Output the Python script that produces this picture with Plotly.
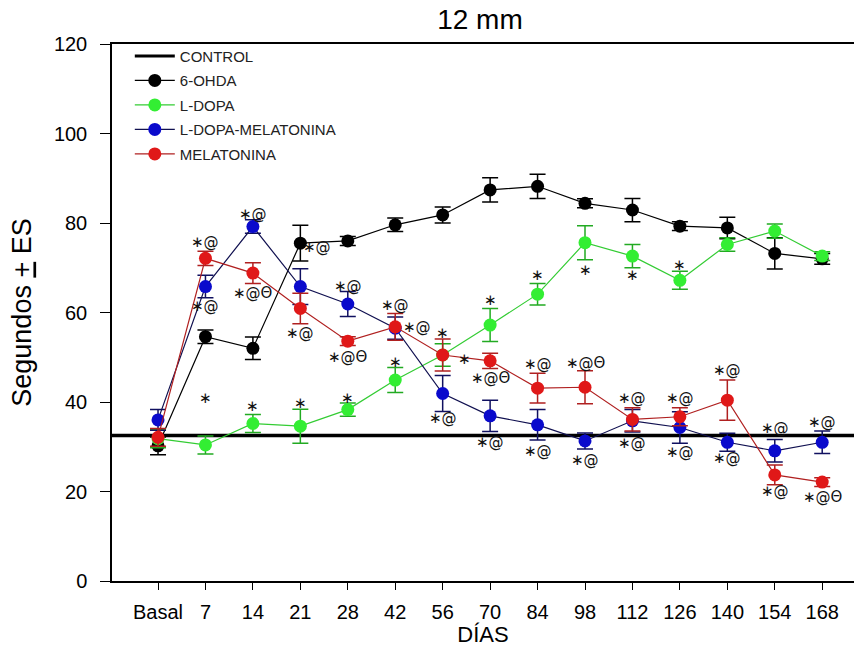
import plotly.graph_objects as go

days = ["Basal", "7", "14", "21", "28", "42", "56", "70", "84", "98", "112", "126", "140", "154", "168"]
xi = list(range(len(days)))

control_value = 32.5

ohda = [30.2, 54.6, 52.0, 75.5, 76.0, 79.6, 81.8, 87.4, 88.2, 84.4, 82.9, 79.3, 78.9, 73.2, 72.0]
ohda_err = [2.0, 1.5, 2.5, 4.0, 1.0, 1.5, 1.8, 2.7, 2.7, 1.0, 2.6, 1.0, 2.4, 3.5, 1.2]

ldopa = [31.8, 30.4, 35.2, 34.6, 38.3, 44.9, 50.5, 57.2, 64.1, 75.6, 72.6, 67.2, 75.2, 78.2, 72.6]
ldopa_err = [2.0, 2.0, 2.0, 3.8, 1.5, 2.8, 2.5, 3.7, 2.4, 3.8, 2.6, 2.0, 1.5, 1.6, 1.0]

ldmel = [36.0, 65.8, 79.2, 65.8, 61.9, 56.5, 41.9, 36.9, 34.9, 31.3, 35.8, 34.3, 31.0, 29.1, 31.0]
ldmel_err = [2.3, 2.5, 1.5, 4.0, 2.8, 2.5, 4.0, 3.5, 3.4, 1.8, 2.5, 3.5, 2.0, 2.5, 2.5]

mel = [32.1, 72.1, 68.8, 60.9, 53.6, 56.8, 50.5, 49.2, 43.1, 43.3, 36.1, 36.7, 40.4, 23.7, 22.1]
mel_err = [2.0, 1.6, 2.3, 3.4, 1.0, 3.0, 3.6, 1.7, 3.3, 3.7, 2.6, 2.0, 4.5, 2.2, 1.0]

ann_x = [1, 1, 1, 2, 2, 2, 3.35, 3, 3, 4, 4, 4, 5, 5.45, 5, 6, 6.45, 6, 7, 7, 7,
         8, 8, 8, 9, 9, 9, 10, 10, 10, 11, 11, 11, 12, 12, 13, 13, 14, 14]
ann_y = [75.7, 61.5, 40.9, 82.0, 64.4, 39.0, 74.6, 55.4, 39.8, 66.0, 50.0, 40.9, 61.7, 56.8, 49.0,
         55.4, 49.6, 36.4, 62.8, 45.4, 31.0, 68.4, 48.5, 29.0, 69.5, 48.7, 27.0, 68.4, 40.9, 30.8,
         70.6, 40.9, 28.8, 47.2, 27.5, 34.2, 20.1, 35.5, 18.8]
ann_text = ["∗@", "∗@", "∗", "∗@", "∗@Θ", "∗", "∗@", "∗@", "∗", "∗@", "∗@Θ", "∗", "∗@", "∗@", "∗",
            "∗", "∗", "∗@", "∗", "∗@Θ", "∗@", "∗", "∗@", "∗@", "∗", "∗@Θ", "∗@", "∗", "∗@", "∗@",
            "∗", "∗@", "∗@", "∗@", "∗@", "∗@", "∗@", "∗@", "∗@Θ"]

FONT = "Liberation Sans, Arial, sans-serif"

fig = go.Figure()

fig.add_hline(y=control_value, line=dict(color="black", width=3.5), layer="below")
fig.add_trace(go.Scatter(x=[None], y=[None], mode="lines", name="CONTROL", legendgroup="c",
                         line=dict(color="black", width=3)))

def series(name, y, err, mcolor, lcolor, ecolor):
    fig.add_trace(go.Scatter(
        x=xi, y=y, name=name, mode="lines+markers", legendgroup=name,
        line=dict(color=lcolor, width=1.2),
        marker=dict(color=mcolor, size=13, line=dict(color=mcolor, width=0)),
        error_y=dict(type="data", array=err, visible=True, color=ecolor, thickness=1.5, width=8),
    ))

series("6-OHDA", ohda, ohda_err, "#000000", "#000000", "#000000")
series("L-DOPA", ldopa, ldopa_err, "#33ee33", "#33cc33", "#22aa22")
series("L-DOPA-MELATONINA", ldmel, ldmel_err, "#0a0acc", "#101050", "#101060")
series("MELATONINA", mel, mel_err, "#e01818", "#b02020", "#b02020")

for ax, ay, t in zip(ann_x, ann_y, ann_text):
    fig.add_annotation(x=ax, y=ay, text=t, showarrow=False,
                       font=dict(family="DejaVu Sans, " + FONT, size=15, color="#111111"))

fig.update_layout(
    width=854, height=647,
    margin=dict(l=112, r=0, t=44, b=66),
    paper_bgcolor="white", plot_bgcolor="white",
    font=dict(family=FONT, color="black"),
    title=dict(text="12 mm", x=0.562, xanchor="center", y=0.971, yanchor="middle",
               font=dict(size=28, family=FONT)),
    showlegend=True,
    legend=dict(x=0.024, y=1.008, xanchor="left", yanchor="top",
                font=dict(size=15, family=FONT, color="#222222"), bgcolor="rgba(0,0,0,0)",
                tracegroupgap=2, itemwidth=40, traceorder="grouped"),
    xaxis=dict(range=[-0.97, 14.67], tickvals=xi, ticktext=days,
               showline=True, linecolor="black", linewidth=1.5, mirror=True,
               ticks="outside", ticklen=7, tickcolor="black", showgrid=False, zeroline=False,
               tickfont=dict(size=20, family=FONT), ticklabelstandoff=5,
               title=dict(text="DÍAS", font=dict(size=22, family=FONT), standoff=4)),
    yaxis=dict(range=[0, 120], tickvals=[0, 20, 40, 60, 80, 100, 120],
               showline=True, linecolor="black", linewidth=1.5,
               ticks="outside", ticklen=10, tickcolor="black", showgrid=False, zeroline=False,
               tickfont=dict(size=20, family=FONT), ticklabelstandoff=9,
               title=dict(text="Segundos <u>+</u> ES", font=dict(size=27, family=FONT), standoff=14)),
)

fig.write_html("out.html")
